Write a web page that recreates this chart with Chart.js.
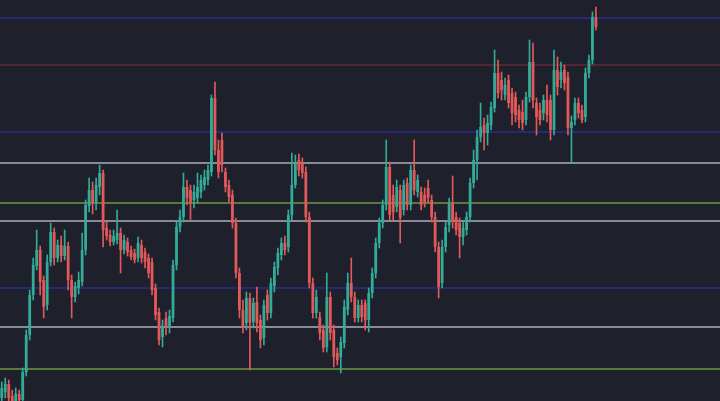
<!DOCTYPE html>
<html>
<head>
<meta charset="utf-8">
<script src="https://cdn.jsdelivr.net/npm/chart.js@4.4.1/dist/chart.umd.min.js"></script>
<style>
  html, body { margin: 0; padding: 0; background: #1e202b; }
  #wrap { width: 720px; height: 401px; }
</style>
</head>
<body>
<div id="wrap"><canvas id="myChart"></canvas></div>
<script>
  // 206 slots across the width, the last ones are empty space on the right
  const labels = Array.from({ length: 206 }, (_, i) => String(i + 1));

  const opens = [3,9,17,5,0,7,1,29,66,106,
    135,151,121,96,139,169,143,156,145,155,
    121,104,113,119,151,195,211,198,214,228,
    173,166,159,161,168,151,159,151,148,143,
    156,149,143,139,113,89,64,83,75,83,
    136,174,184,214,211,201,203,209,216,221,
    229,303,251,261,229,216,206,178,128,91,
    78,103,79,99,81,63,106,88,115,133,
    146,158,154,186,216,241,238,229,184,118,
    88,84,71,54,104,71,48,44,58,91,
    118,104,83,96,98,81,108,128,158,178,
    196,234,206,194,211,191,218,196,231,209,
    209,206,213,201,184,154,118,154,176,198,
    184,178,164,171,184,218,241,264,276,268,
    276,293,328,321,306,321,308,304,291,289,
    281,304,339,298,291,288,301,301,271,331,
    321,331,324,273,281,298,291,284,328,341,
    384];

  const closes = [13,17,3,0,7,1,29,66,106,136,
    151,119,94,139,169,143,156,145,155,121,
    104,115,121,151,196,211,198,216,228,171,
    165,159,165,168,151,161,149,144,141,158,
    143,139,128,111,86,61,74,74,85,136,
    174,184,214,203,198,209,214,221,224,231,
    303,251,229,236,214,204,178,128,91,74,
    103,78,98,78,61,96,88,118,134,148,
    158,151,186,216,238,231,228,184,118,88,
    104,68,53,104,68,44,41,59,94,118,
    104,83,96,84,81,108,128,158,178,196,
    234,186,189,214,183,216,196,231,211,221,
    196,199,203,184,154,114,154,174,198,179,
    171,164,173,184,218,241,264,274,268,278,
    294,328,308,311,316,298,288,286,281,278,
    304,339,301,284,281,301,286,271,331,314,
    329,318,273,279,298,288,281,328,341,384,
    374];

  const highs = [19,23,21,11,13,11,33,71,111,143,
    171,155,125,146,178,173,161,165,171,159,
    126,119,129,168,201,223,219,223,236,231,
    179,171,171,191,173,166,163,155,152,164,
    161,153,147,143,117,93,81,89,91,141,
    179,191,228,221,216,216,228,226,231,236,
    306,319,261,268,233,221,211,183,133,101,
    109,108,103,114,86,101,111,123,139,153,
    163,165,191,248,246,247,243,234,189,123,
    111,89,76,128,109,76,53,64,101,128,
    143,109,101,101,101,113,133,163,183,201,
    261,239,216,221,216,221,223,236,261,226,
    214,213,221,206,189,159,161,179,203,225,
    189,183,179,189,223,251,271,298,283,286,
    299,351,341,329,323,326,313,309,296,301,
    309,361,358,303,298,306,316,306,351,344,
    339,336,329,285,303,303,296,333,346,389,
    394];

  const lows = [0,3,0,0,0,0,0,25,61,101,
    131,106,83,91,135,136,139,139,141,111,
    83,99,107,115,146,189,187,191,206,154,
    161,155,156,157,128,147,145,141,138,139,
    138,133,123,106,81,56,54,66,68,79,
    131,169,179,196,181,193,198,203,211,216,
    225,246,223,229,209,199,173,123,83,68,
    71,31,73,69,53,56,81,83,109,126,
    141,146,149,181,213,225,223,179,113,83,
    83,61,49,49,61,34,36,28,53,86,
    99,79,79,79,71,69,103,123,153,173,
    191,181,181,189,158,186,191,191,206,204,
    191,194,198,179,149,103,113,149,169,173,
    166,143,156,166,179,213,221,259,251,256,
    271,289,303,301,301,293,276,279,273,271,
    276,299,293,266,276,281,279,261,266,306,
    313,311,266,238,276,283,278,279,323,337,
    371];

  // horizontal levels drawn across the chart
  const levels = [383, 336, 269, 238, 198, 180, 113, 74, 32];
  const levelColors = ['#262878', '#862c3a', '#262878', '#aeb0b8', '#587a3c',
    '#aeb0b8', '#262878', '#aeb0b8', '#587a3c'];
  const levelWidths = [2, 1.2, 2, 1.5, 2, 1.5, 2, 1.5, 2];

  const upColor = '#32ab98';
  const downColor = '#e2595a';
  const candleColors = opens.map((o, i) => closes[i] >= o ? upColor : downColor);

  const levelLines = {
    id: 'levelLines',
    beforeDatasetsDraw(chart) {
      const ctx = chart.ctx;
      const area = chart.chartArea;
      const y = chart.scales.y;
      ctx.save();
      levels.forEach((lv, i) => {
        const py = y.getPixelForValue(lv);
        ctx.strokeStyle = levelColors[i];
        ctx.lineWidth = levelWidths[i];
        ctx.beginPath();
        ctx.moveTo(area.left, py);
        ctx.lineTo(area.right, py);
        ctx.stroke();
      });
      ctx.restore();
    }
  };

  const config = {
    type: 'bar',
    data: {
      labels: labels,
      datasets: [{
        label: 'wicks',
        data: lows.map((l, i) => [l, highs[i]]),
        backgroundColor: candleColors,
        barThickness: 1,
        grouped: false,
        order: 2
      }, {
        label: 'bodies',
        data: opens.map((o, i) => [o, closes[i]]),
        backgroundColor: candleColors,
        barPercentage: 0.8,
        categoryPercentage: 1,
        minBarLength: 1,
        grouped: false,
        order: 1
      }]
    },
    options: {
      responsive: true,
      maintainAspectRatio: false,
      animation: false,
      layout: { padding: 0 },
      plugins: {
        legend: { display: false },
        tooltip: { enabled: false }
      },
      scales: {
        x: { display: false },
        y: { display: false, min: 0, max: 401 }
      }
    },
    plugins: [levelLines]
  };

  const myChart = new Chart(document.getElementById('myChart'), config);
</script>
</body>
</html>
